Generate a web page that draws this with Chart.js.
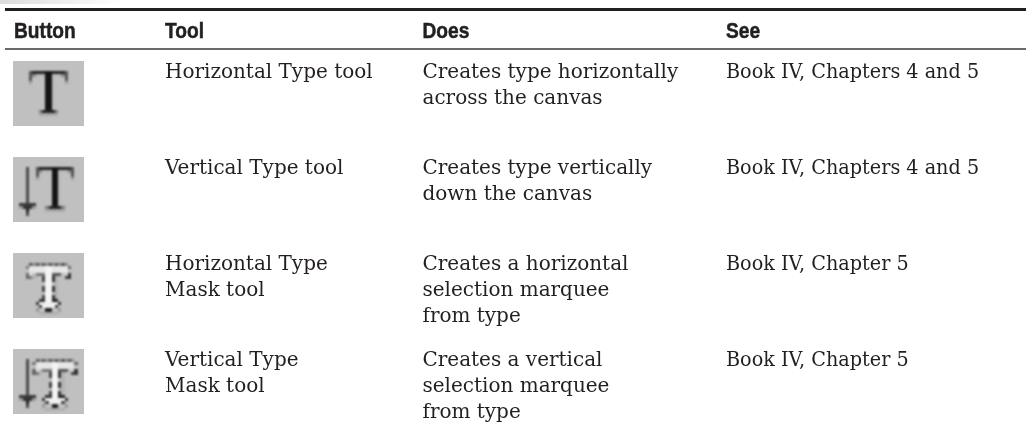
<!DOCTYPE html>
<html>
<head>
<meta charset="utf-8">
<title>Type tools</title>
<script src="https://cdn.jsdelivr.net/npm/chart.js@4/dist/chart.umd.min.js"></script>
<style>
  html, body { margin: 0; padding: 0; background: #fff; }
  canvas { display: block; }
</style>
</head>
<body>
<canvas id="toolTable" width="1026" height="428"></canvas>
<script>
// table content
const columnNames = ['Button', 'Tool', 'Does', 'See'];
const rowIndexes = [0, 1, 2, 3];
const toolNames = [
  ['Horizontal Type tool'],
  ['Vertical Type tool'],
  ['Horizontal Type', 'Mask tool'],
  ['Vertical Type', 'Mask tool']
];
const doesTexts = [
  ['Creates type horizontally', 'across the canvas'],
  ['Creates type vertically', 'down the canvas'],
  ['Creates a horizontal', 'selection marquee', 'from type'],
  ['Creates a vertical', 'selection marquee', 'from type']
];
const seeTexts = [
  ['Book IV, Chapters 4 and 5'],
  ['Book IV, Chapters 4 and 5'],
  ['Book IV, Chapter 5'],
  ['Book IV, Chapter 5']
];

// layout, in scale units
const columnStarts = [14, 165, 422.5, 726];
const bodySqueeze = [1.025, 1.025, 0.985];
const iconCenter = 48.5;
const rowHeight = 96;
const firstRowCenter = 93.5;
const ink = '#231f20';

// the buttons are tiny screenshots, so paint them small and blow them up
function makeIcon(paint) {
  const small = document.createElement('canvas');
  small.width = 22; small.height = 20;
  const s = small.getContext('2d');
  s.fillStyle = '#c0c0c0';
  s.fillRect(0, 0, 22, 20);
  paint((x, y, w, h, color) => { s.fillStyle = color; s.fillRect(x, y, w, h); });
  const big = document.createElement('canvas');
  big.width = 71; big.height = 65;
  const b = big.getContext('2d');
  b.fillStyle = '#c0c0c0';
  b.fillRect(0, 0, 71, 65);
  b.imageSmoothingEnabled = false;
  b.filter = 'blur(0.8px)';
  b.drawImage(small, 0, 0, 71, 65);
  return big;
}

function solidT(r, dx) {
  // soft shadow first
  r(dx + 6, 4, 11, 1, '#bababa');
  r(dx + 12, 4, 1, 12, '#bababa');
  r(dx + 8, 16, 6, 1, '#aaaaaa');
  r(dx + 5, 6, 1, 1, '#a0a0a0');
  r(dx + 16, 6, 1, 1, '#a0a0a0');
  r(dx + 5, 3, 12, 1, '#222');
  r(dx + 5, 3, 1, 3, '#555');
  r(dx + 16, 3, 1, 3, '#555');
  r(dx + 6, 4, 1, 1, '#8a8a8a');
  r(dx + 15, 4, 1, 1, '#8a8a8a');
  r(dx + 10, 3, 2, 13, '#141414');
  r(dx + 8, 15, 6, 1, '#7a7a7a');
  r(dx + 9, 15, 4, 1, '#222');
}

function arrow(r) {
  r(4, 3, 1, 15, '#4a4a4a');
  r(2, 14, 5, 1, '#3a3a3a');
  r(3, 15, 3, 1, '#333');
  r(2, 15, 1, 1, '#9a9a9a');
  r(6, 15, 1, 1, '#9a9a9a');
  r(4, 16, 1, 1, '#222');
}

function maskT(r, dx) {
  // soft shadow
  r(dx + 6, 7, 1, 1, '#b0b0b0');
  r(dx + 13, 7, 1, 8, '#b4b4b4');
  r(dx + 8, 18, 6, 1, '#b0b0b0');
  // white body
  r(dx + 5, 4, 12, 2, '#e6e6e6');
  r(dx + 5, 6, 1, 1, '#dcdcdc');
  r(dx + 16, 6, 1, 1, '#cfcfcf');
  r(dx + 10, 4, 2, 13, '#f4f4f4');
  r(dx + 8, 15, 6, 2, '#f0f0f0');
  // marching ants round it
  for (let x = 5; x < 17; x += 2) r(dx + x, 3, 1, 1, '#555');
  for (let x = 6; x < 17; x += 2) r(dx + x, 3, 1, 1, '#8a8a8a');
  r(dx + 4, 4, 1, 1, '#777');
  r(dx + 4, 6, 1, 2, '#666');
  r(dx + 17, 4, 1, 1, '#666');
  r(dx + 17, 6, 1, 2, '#333');
  r(dx + 5, 7, 1, 1, '#777');
  r(dx + 16, 7, 1, 1, '#444');
  r(dx + 7, 6, 3, 1, '#777');
  r(dx + 12, 6, 3, 1, '#555');
  for (let y = 7; y < 14; y += 3) {
    r(dx + 9, y, 1, 2, '#444');
    r(dx + 12, y, 1, 2, '#333');
  }
  r(dx + 8, 14, 2, 1, '#333');
  r(dx + 12, 14, 2, 1, '#222');
  r(dx + 7, 15, 1, 1, '#333');
  r(dx + 14, 15, 1, 1, '#333');
  r(dx + 8, 16, 1, 1, '#444');
  r(dx + 13, 16, 1, 1, '#444');
  r(dx + 10, 17, 2, 1, '#222');
  r(dx + 7, 17, 1, 1, '#999');
  r(dx + 14, 17, 1, 1, '#999');
}

const iconImages = [
  makeIcon(r => solidT(r, 0)),
  makeIcon(r => { arrow(r); solidT(r, 2); }),
  makeIcon(r => maskT(r, 0)),
  makeIcon(r => { arrow(r); maskT(r, 2); })
];

// squeeze the fonts sideways to get the narrow book faces
function drawLine(ctx, text, x, y, font, squeeze, heavy) {
  ctx.save();
  ctx.font = font;
  ctx.fillStyle = ink;
  ctx.textBaseline = 'alphabetic';
  ctx.textAlign = 'left';
  ctx.translate(x, y);
  ctx.scale(squeeze, 1);
  ctx.fillText(text, 0, 0);
  if (heavy) {
    ctx.strokeStyle = ink;
    ctx.lineWidth = heavy;
    ctx.strokeText(text, 0, 0);
  }
  ctx.restore();
}

const tablePlugin = {
  id: 'tablePlugin',
  afterDraw(chart) {
    const { ctx, scales } = chart;
    const xp = v => scales.x.getPixelForValue(v);
    const yp = v => scales.y.getPixelForValue(v);
    const right = chart.width;

    // faint band left over at the top of the page
    const band = ctx.createLinearGradient(0, 0, 125, 0);
    band.addColorStop(0, '#dcdcdc');
    band.addColorStop(1, '#ffffff');
    ctx.fillStyle = band;
    ctx.fillRect(0, 0, 125, 4);

    // rules, above and below the header
    ctx.fillStyle = ink;
    ctx.fillRect(5, Math.round(yp(-0.89)), right - 5, 3);
    ctx.fillStyle = '#6a6a6a';
    ctx.fillRect(5, Math.round(yp(-0.474)), right - 5, 2);

    const headFont = 'bold 22px "Liberation Sans"';
    columnNames.forEach((name, i) => {
      drawLine(ctx, name, xp(columnStarts[i]), yp(-0.578), headFont, 0.87, 0.5);
    });

    const bodyFont = '19.5px "DejaVu Serif"';
    [toolNames, doesTexts, seeTexts].forEach((col, c) => {
      col.forEach((lines, row) => {
        lines.forEach((line, l) => {
          const y = yp(rowIndexes[row]) - 15.5 + l * 26;
          drawLine(ctx, line, xp(columnStarts[c + 1]), y, bodyFont, bodySqueeze[c]);
        });
      });
    });
  }
};

new Chart(document.getElementById('toolTable'), {
  type: 'scatter',
  data: {
    datasets: [{
      data: rowIndexes.map(r => ({ x: iconCenter, y: r })),
      pointStyle: iconImages,
      pointRadius: 10
    }]
  },
  options: {
    responsive: false,
    animation: false,
    layout: { padding: 0, autoPadding: false },
    plugins: { legend: { display: false }, tooltip: { enabled: false } },
    scales: {
      x: { type: 'linear', display: false, min: 0, max: 1026 },
      y: {
        type: 'linear',
        display: false,
        reverse: true,
        min: -firstRowCenter / rowHeight,
        max: (428 - firstRowCenter) / rowHeight
      }
    }
  },
  plugins: [tablePlugin]
});
</script>
</body>
</html>
